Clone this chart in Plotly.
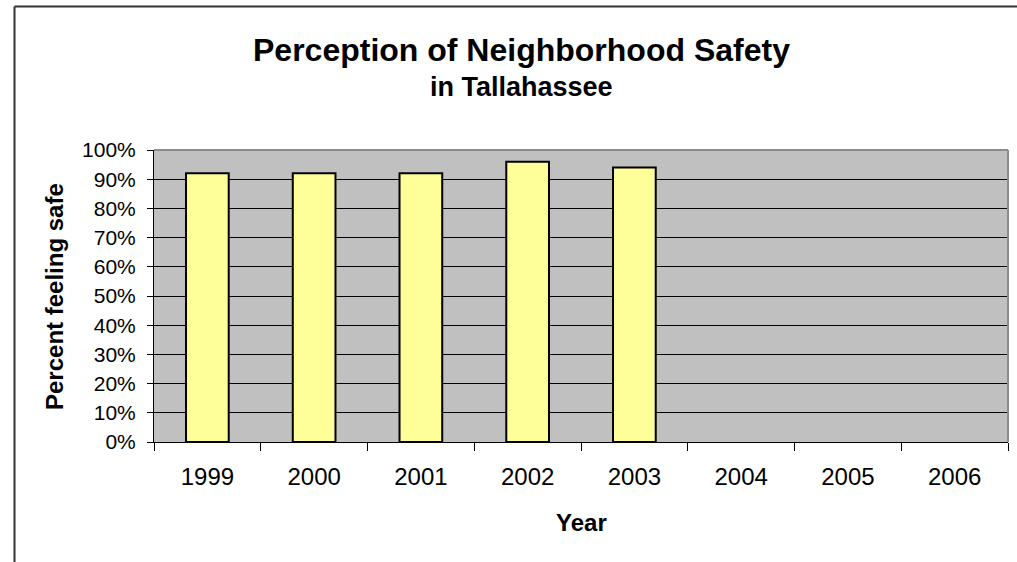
import plotly.graph_objects as go

years = ["1999", "2000", "2001", "2002", "2003", "2004", "2005", "2006"]
pct_safe = [92, 92, 92, 96, 94, None, None, None]
y_ticks = list(range(0, 101, 10))
y_tick_labels = [f"{v}%" for v in y_ticks]

W, H = 1017, 562
# plot area in window coordinates: x 154..1008, y 150..442
ML, MT = 154, 150
MR = W - 1008
MB = H - 442
PW, PH = W - ML - MR, H - MT - MB

def px(x):
    return (x - ML) / PW

def py(y):
    return (H - MB - y) / PH

FONT = "Liberation Sans, Arial, sans-serif"

fig = go.Figure(go.Bar(
    x=years, y=pct_safe, width=0.4,
    marker=dict(color="#FFFF99", line=dict(color="black", width=2)),
))

fig.update_layout(
    width=W, height=H,
    margin=dict(l=ML, r=MR, t=MT, b=MB),
    paper_bgcolor="white", plot_bgcolor="#C0C0C0",
    showlegend=False,
    font=dict(family=FONT, color="black"),
    xaxis=dict(
        type="category", tickson="boundaries", ticks="outside", ticklen=8,
        tickcolor="black", tickwidth=1, showgrid=False,
        showline=True, linecolor="black", linewidth=1,
        tickfont=dict(size=24, family=FONT), ticklabelstandoff=13,
        range=[-0.5, 7.5],
    ),
    yaxis=dict(
        range=[0, 100], tickvals=y_ticks, ticktext=y_tick_labels,
        ticks="outside", ticklen=6, tickcolor="black",
        showgrid=True, gridcolor="black", gridwidth=1,
        showline=True, linecolor="black", linewidth=1,
        tickfont=dict(size=21, family=FONT), ticklabelstandoff=7,
        zeroline=False,
    ),
    annotations=[
        dict(text="<b>Perception of Neighborhood Safety</b>", x=px(521), y=py(50),
             xref="paper", yref="paper", showarrow=False, xanchor="center", yanchor="middle",
             font=dict(size=32, family=FONT)),
        dict(text="<b>in Tallahassee</b>", x=px(521), y=py(87),
             xref="paper", yref="paper", showarrow=False, xanchor="center", yanchor="middle",
             font=dict(size=27, family=FONT)),
        dict(text="<b>Year</b>", x=px(581), y=py(522),
             xref="paper", yref="paper", showarrow=False, xanchor="center", yanchor="middle",
             font=dict(size=24, family=FONT)),
        dict(text="<b>Percent feeling safe</b>", x=px(54), y=py(297),
             xref="paper", yref="paper", showarrow=False, xanchor="center", yanchor="middle",
             textangle=-90, font=dict(size=24, family=FONT)),
    ],
    shapes=[
        # plot area top and right border (gray)
        dict(type="line", xref="paper", yref="paper", x0=0, x1=1, y0=1, y1=1,
             line=dict(color="#8C8C8C", width=2), layer="above"),
        dict(type="line", xref="paper", yref="paper", x0=1, x1=1, y0=0, y1=1,
             line=dict(color="#8C8C8C", width=2), layer="above"),
        # chart frame (left and top visible)
        dict(type="line", xref="paper", yref="paper", x0=px(14.5), x1=px(14.5), y0=py(6.5), y1=py(600),
             line=dict(color="#333333", width=2), layer="above"),
        dict(type="line", xref="paper", yref="paper", x0=px(14.5), x1=px(1040), y0=py(6.5), y1=py(6.5),
             line=dict(color="#333333", width=2), layer="above"),
    ],
)

fig.write_html("out.html", config={"displayModeBar": False},
               post_script="document.body.style.margin='0';")
